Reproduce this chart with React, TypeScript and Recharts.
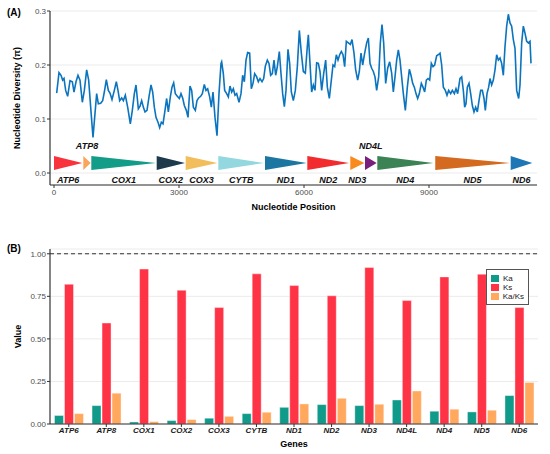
import {
  ComposedChart, Line, XAxis, YAxis, CartesianGrid, ReferenceArea,
  BarChart, Bar, ReferenceLine, Legend,
} from 'recharts';

// sliding-window nucleotide diversity (window midpoint, pi)
const positions = [
  64, 120, 168, 208, 240, 280, 328, 384, 440, 480, 528, 576, 624, 680, 728, 784, 832, 880, 936, 976,
  1024, 1064, 1120, 1168, 1208, 1256, 1304, 1344, 1392, 1448, 1496, 1536, 1576, 1624, 1664, 1712, 1768, 1832, 1880, 1928,
  1968, 2024, 2064, 2104, 2144, 2184, 2232, 2280, 2328, 2368, 2408, 2448, 2496, 2536, 2576, 2616, 2664, 2704, 2744, 2792,
  2832, 2872, 2912, 2960, 3008, 3048, 3088, 3128, 3176, 3216, 3264, 3304, 3344, 3392, 3432, 3472, 3520, 3560, 3608, 3648,
  3688, 3736, 3776, 3816, 3864, 3912, 3960, 4008, 4024, 4064, 4096, 4144, 4184, 4224, 4264, 4304, 4344, 4384, 4440, 4488,
  4528, 4568, 4608, 4648, 4696, 4736, 4776, 4816, 4864, 4904, 4944, 4992, 5032, 5072, 5120, 5160, 5200, 5240, 5280, 5320,
  5360, 5408, 5448, 5488, 5528, 5568, 5616, 5656, 5696, 5744, 5792, 5840, 5888, 5936, 5984, 6032, 6080, 6104, 6144, 6184,
  6224, 6264, 6304, 6344, 6384, 6424, 6472, 6520, 6560, 6608, 6656, 6696, 6736, 6776, 6816, 6856, 6896, 6936, 6976, 7016,
  7064, 7112, 7152, 7200, 7240, 7288, 7328, 7368, 7408, 7456, 7504, 7544, 7584, 7624, 7664, 7704, 7744, 7792, 7832, 7872,
  7912, 7960, 8008, 8056, 8104, 8144, 8184, 8224, 8264, 8304, 8344, 8384, 8432, 8480, 8528, 8568, 8608, 8648, 8688, 8728,
  8768, 8816, 8856, 8896, 8936, 8976, 9016, 9056, 9096, 9136, 9184, 9224, 9264, 9304, 9344, 9392, 9432, 9472, 9520, 9560,
  9608, 9648, 9688, 9744, 9784, 9824, 9856, 9888, 9920, 9960, 10000, 10040, 10080, 10120, 10160, 10200, 10240, 10280, 10320, 10352,
  10392, 10432, 10464, 10504, 10544, 10584, 10624, 10664, 10704, 10744, 10784, 10824, 10864, 10904, 10944, 10984, 11024, 11064, 11104, 11152,
  11184, 11224, 11264, 11304, 11344, 11384, 11424, 11448,
];
const diversity = [
  0.148, 0.186, 0.181, 0.172, 0.175, 0.153, 0.142, 0.171, 0.169, 0.150, 0.169, 0.181, 0.172, 0.131, 0.153, 0.191, 0.172, 0.122, 0.066, 0.103,
  0.147, 0.128, 0.129, 0.134, 0.150, 0.173, 0.153, 0.148, 0.136, 0.153, 0.169, 0.153, 0.134, 0.139, 0.134, 0.144, 0.122, 0.091, 0.116, 0.147,
  0.163, 0.119, 0.124, 0.134, 0.122, 0.113, 0.116, 0.141, 0.163, 0.150, 0.122, 0.103, 0.094, 0.084, 0.094, 0.091, 0.116, 0.138, 0.113, 0.141,
  0.159, 0.167, 0.147, 0.142, 0.138, 0.147, 0.139, 0.125, 0.116, 0.103, 0.161, 0.153, 0.122, 0.116, 0.134, 0.139, 0.142, 0.147, 0.164, 0.153,
  0.156, 0.141, 0.122, 0.150, 0.103, 0.069, 0.147, 0.203, 0.206, 0.184, 0.153, 0.147, 0.141, 0.161, 0.150, 0.156, 0.144, 0.147, 0.131, 0.147,
  0.181, 0.169, 0.209, 0.223, 0.222, 0.156, 0.166, 0.184, 0.178, 0.169, 0.175, 0.169, 0.175, 0.198, 0.209, 0.203, 0.181, 0.184, 0.209, 0.181,
  0.197, 0.225, 0.184, 0.147, 0.123, 0.153, 0.229, 0.203, 0.150, 0.134, 0.153, 0.197, 0.264, 0.222, 0.188, 0.185, 0.235, 0.256, 0.203, 0.150,
  0.163, 0.153, 0.204, 0.203, 0.188, 0.153, 0.184, 0.209, 0.159, 0.138, 0.172, 0.200, 0.197, 0.219, 0.209, 0.219, 0.225, 0.219, 0.197, 0.244,
  0.241, 0.238, 0.247, 0.222, 0.191, 0.172, 0.188, 0.222, 0.200, 0.222, 0.241, 0.250, 0.203, 0.194, 0.188, 0.178, 0.153, 0.178, 0.241, 0.275,
  0.241, 0.166, 0.194, 0.206, 0.185, 0.150, 0.178, 0.209, 0.228, 0.209, 0.178, 0.147, 0.116, 0.159, 0.192, 0.181, 0.166, 0.159, 0.147, 0.138,
  0.147, 0.166, 0.159, 0.150, 0.172, 0.175, 0.172, 0.203, 0.197, 0.200, 0.217, 0.219, 0.222, 0.200, 0.159, 0.153, 0.144, 0.153, 0.147, 0.153,
  0.147, 0.156, 0.147, 0.175, 0.178, 0.153, 0.122, 0.128, 0.159, 0.166, 0.147, 0.125, 0.113, 0.122, 0.113, 0.134, 0.153, 0.153, 0.138, 0.116,
  0.147, 0.159, 0.175, 0.163, 0.172, 0.191, 0.219, 0.209, 0.213, 0.203, 0.181, 0.234, 0.272, 0.294, 0.278, 0.272, 0.247, 0.231, 0.153, 0.138,
  0.163, 0.241, 0.272, 0.259, 0.244, 0.241, 0.244, 0.203,
];

// gene map along the alignment
const geneNames = ['ATP6', 'ATP8', 'COX1', 'COX2', 'COX3', 'CYTB', 'ND1', 'ND2', 'ND3', 'ND4L', 'ND4', 'ND5', 'ND6'];
const geneStarts = [0, 704, 896, 2464, 3160, 3944, 5064, 6080, 7112, 7464, 7760, 9150, 10960];
const geneEnds = [680, 880, 2448, 3144, 3920, 5040, 6064, 7080, 7448, 7744, 9104, 10944, 11480];
const labelsAbove = ['ATP8', 'ND4L'];
const geneColors = [
  '#F8333C', '#F9A65A', '#139C88', '#1C3A4C', '#F2BE5C', '#92D8DE', '#1B77A2',
  '#F22B2E', '#F98A1E', '#7A1F7E', '#3B8255', '#D46A1F', '#1D76B6',
];

// Ka / Ks per gene
const barGenes = ['ATP6', 'ATP8', 'COX1', 'COX2', 'COX3', 'CYTB', 'ND1', 'ND2', 'ND3', 'ND4L', 'ND4', 'ND5', 'ND6'];
const ka = [0.050, 0.108, 0.012, 0.020, 0.034, 0.061, 0.098, 0.114, 0.108, 0.141, 0.075, 0.071, 0.167];
const ks = [0.821, 0.593, 0.910, 0.786, 0.684, 0.882, 0.813, 0.753, 0.919, 0.725, 0.864, 0.880, 0.684];
const kaks = [0.061, 0.181, 0.014, 0.026, 0.045, 0.069, 0.118, 0.151, 0.116, 0.194, 0.087, 0.081, 0.244];
const seriesNames = ['Ka', 'Ks', 'Ka/Ks'];

const lineData = positions.map((pos, i) => ({ pos, pi: diversity[i] }));
const barData = barGenes.map((gene, i) => ({ gene, Ka: ka[i], Ks: ks[i], KaKs: kaks[i] }));

const AXIS = '#333333';
const TICK = { fill: '#4D4D4D', fontSize: 8 };

const arrowShape = (props: any) => {
  const { x, y, width, height, fill } = props;
  return (
    <polygon
      points={`${x},${y} ${x},${y + height} ${x + width},${y + height / 2}`}
      fill={fill}
      fillOpacity={1}
    />
  );
};

const BarTick = (props: any) => {
  const { x, y, payload } = props;
  return (
    <text x={x} y={y} dy={6} textAnchor="middle" fontSize={8} fontWeight="bold" fontStyle="italic" fill="#1a1a1a">
      {payload.value}
    </text>
  );
};

const KeyBox = (props: any) => {
  const items = [...(props.payload || [])].sort(
    (a: any, b: any) => seriesNames.indexOf(a.value) - seriesNames.indexOf(b.value),
  );
  return (
    <div style={{ border: '1px solid #555', background: '#fff', padding: '4px 4px 3px 4px', fontSize: 8, color: '#1a1a1a' }}>
      {items.map((p: any) => (
        <div key={p.value} style={{ display: 'flex', alignItems: 'center', height: 9 }}>
          <span style={{ display: 'inline-block', width: 8, height: 7, background: p.color, marginRight: 4 }} />
          {p.value}
        </div>
      ))}
    </div>
  );
};

export default function App() {
  return (
    <div style={{ position: 'absolute', left: 0, top: 0, width: 550, height: 454, background: '#fff', fontFamily: '"Liberation Sans", Arial, sans-serif' }}>
      <div style={{ position: 'absolute', left: 7, top: 7, fontSize: 10, fontWeight: 'bold' }}>(A)</div>
      <div style={{ position: 'absolute', left: 7, top: 243, fontSize: 10, fontWeight: 'bold' }}>(B)</div>

      <div style={{ position: 'absolute', left: 0, top: 0 }}>
        <ComposedChart width={550} height={215} data={lineData} margin={{ top: 11, right: 13, bottom: 0, left: 10 }}>
          <CartesianGrid horizontal vertical={false} stroke="#EBEBEB" />
          <XAxis
            type="number"
            dataKey="pos"
            domain={[-96, 11592]}
            ticks={[0, 3000, 6000, 9000]}
            allowDataOverflow
            height={30}
            tick={TICK}
            tickSize={3}
            tickMargin={1}
            axisLine={{ stroke: AXIS, strokeWidth: 1.2 }}
            tickLine={{ stroke: AXIS }}
            label={{ value: 'Nucleotide Position', position: 'insideBottom', offset: 5, fontSize: 9, fontWeight: 'bold', fill: '#000' }}
          />
          <YAxis
            type="number"
            domain={[-0.0222, 0.3]}
            ticks={[0, 0.1, 0.2, 0.3]}
            tickFormatter={(v: number) => v.toFixed(1)}
            allowDataOverflow
            width={40}
            tick={TICK}
            tickSize={3}
            tickMargin={1}
            axisLine={{ stroke: AXIS, strokeWidth: 1.2 }}
            tickLine={{ stroke: AXIS }}
            label={{ value: 'Nucleotide Diversity (π)', angle: -90, position: 'insideLeft', offset: 7, fontSize: 9, fontWeight: 'bold', fill: '#000', style: { textAnchor: 'middle' } }}
          />
          {geneNames.map((name, i) => (
            <ReferenceArea
              key={name}
              x1={geneStarts[i]}
              x2={geneEnds[i]}
              y1={0.0056}
              y2={0.0315}
              fill={geneColors[i]}
              shape={arrowShape}
              label={{
                value: name,
                position: labelsAbove.includes(name) ? 'top' : 'bottom',
                offset: 7,
                fontSize: 9,
                fontWeight: 'bold',
                fontStyle: 'italic',
                fill: '#111',
              }}
            />
          ))}
          <Line type="linear" dataKey="pi" stroke="#0B74BE" strokeWidth={1.6} dot={false} isAnimationActive={false} />
        </ComposedChart>
      </div>

      <div style={{ position: 'absolute', left: 0, top: 215 }}>
        <BarChart width={550} height={239} data={barData} margin={{ top: 34, right: 12, bottom: 0, left: 10 }} barCategoryGap="12%" barGap={1}>
          <CartesianGrid horizontal vertical={false} stroke="#EBEBEB" />
          <XAxis
            dataKey="gene"
            height={30}
            tick={<BarTick />}
            tickSize={3}
            tickMargin={0}
            interval={0}
            axisLine={{ stroke: AXIS, strokeWidth: 1.2 }}
            tickLine={{ stroke: AXIS }}
            label={{ value: 'Genes', position: 'insideBottom', offset: 7, fontSize: 9, fontWeight: 'bold', fill: '#000' }}
          />
          <YAxis
            type="number"
            domain={[0, 1.028]}
            ticks={[0, 0.25, 0.5, 0.75, 1]}
            tickFormatter={(v: number) => v.toFixed(2)}
            allowDataOverflow
            width={40}
            tick={TICK}
            tickSize={3}
            tickMargin={1}
            axisLine={{ stroke: AXIS, strokeWidth: 1.2 }}
            tickLine={{ stroke: AXIS }}
            label={{ value: 'Value', angle: -90, position: 'insideLeft', offset: 8, fontSize: 9, fontWeight: 'bold', fill: '#000', style: { textAnchor: 'middle' } }}
          />
          <ReferenceLine y={1} stroke="#333" strokeWidth={1.1} strokeDasharray="4 3" />
          <Legend
            layout="vertical"
            align="center"
            verticalAlign="middle"
            content={<KeyBox />}
            wrapperStyle={{ left: 486, top: 54, width: 43 }}
          />
          <Bar dataKey="Ka" name="Ka" fill="#109A8A" stroke="#fff" strokeWidth={0.4} isAnimationActive={false} />
          <Bar dataKey="Ks" name="Ks" fill="#FF3346" stroke="#fff" strokeWidth={0.4} isAnimationActive={false} />
          <Bar dataKey="KaKs" name="Ka/Ks" fill="#FFA85E" stroke="#fff" strokeWidth={0.4} isAnimationActive={false} />
        </BarChart>
      </div>
    </div>
  );
}
